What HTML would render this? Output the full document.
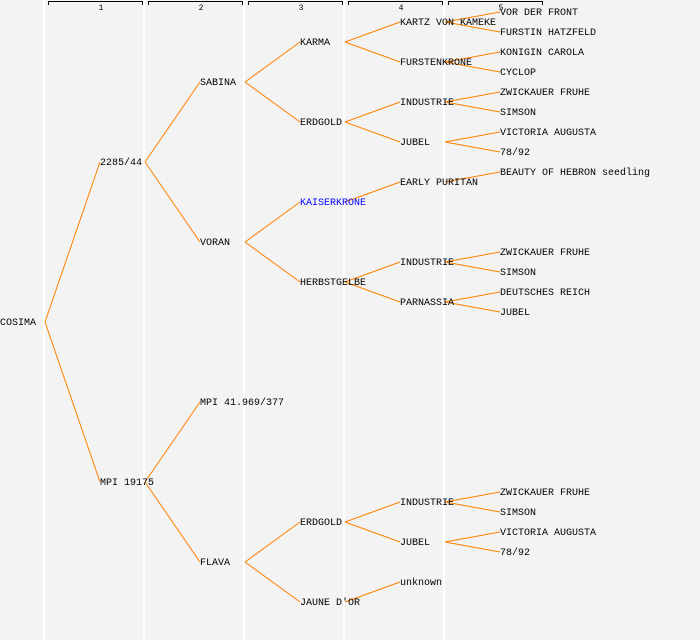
<!DOCTYPE html>
<html><head><meta charset="utf-8"><style>
html,body{margin:0;padding:0;background:#f3f3f3;}
svg{display:block}
text{font-family:"Liberation Mono","DejaVu Sans Mono",monospace;font-size:10px;fill:#000}
.h{font-size:8px}
</style></head><body>
<svg width="700" height="640" viewBox="0 0 700 640">
<rect width="700" height="640" fill="#f3f3f3"/>
<g stroke="#fff" stroke-width="2">
<line x1="44" y1="0" x2="44" y2="640"/><line x1="144" y1="0" x2="144" y2="640"/>
<line x1="244" y1="0" x2="244" y2="640"/><line x1="344" y1="0" x2="344" y2="640"/>
<line x1="444" y1="0" x2="444" y2="640"/>
</g>
<g stroke="#000" stroke-width="1" fill="none">
<path d="M48.5 5V1.5H142.5V5"/><path d="M148.5 5V1.5H242.5V5"/><path d="M248.5 5V1.5H342.5V5"/><path d="M348.5 5V1.5H442.5V5"/><path d="M448.5 5V1.5H542.5V5"/>
</g>
<g class="h" text-anchor="middle">
<text class="h" x="101" y="10">1</text><text class="h" x="201" y="10">2</text><text class="h" x="301" y="10">3</text><text class="h" x="401" y="10">4</text><text class="h" x="501" y="10">5</text>
</g>
<g stroke="#ff8000" stroke-width="1" fill="none">
<path d="M45 322L100 162M45 322L100 482"/>
<path d="M145 162L200 82M145 162L200 242M145 482L200 402M145 482L200 562"/>
<path d="M245 82L300 42M245 82L300 122M245 242L300 202M245 242L300 282M245 562L300 522M245 562L300 602"/>
<path d="M345 42L400 22M345 42L400 62M345 122L400 102M345 122L400 142M345 202L400 182M345 282L400 262M345 282L400 302M345 522L400 502M345 522L400 542M345 602L400 582"/>
<path d="M445 22L500 12M445 22L500 32M445 62L500 52M445 62L500 72M445 102L500 92M445 102L500 112M445 142L500 132M445 142L500 152M445 182L500 172M445 262L500 252M445 262L500 272M445 302L500 292M445 302L500 312M445 502L500 492M445 502L500 512M445 542L500 532M445 542L500 552"/>
</g>
<g transform="translate(0,-1)">
<text x="0" y="326">COSIMA</text>
<text x="100" y="166">2285/44</text><text x="100" y="486">MPI 19175</text>
<text x="200" y="86">SABINA</text><text x="200" y="246">VORAN</text><text x="200" y="406">MPI 41.969/377</text><text x="200" y="566">FLAVA</text>
<text x="300" y="46">KARMA</text><text x="300" y="126">ERDGOLD</text><text x="300" y="206" style="fill:#0000ff">KAISERKRONE</text><text x="300" y="286">HERBSTGELBE</text><text x="300" y="526">ERDGOLD</text><text x="300" y="606">JAUNE D'OR</text>
<text x="400" y="26">KARTZ VON KAMEKE</text><text x="400" y="66">FURSTENKRONE</text><text x="400" y="106">INDUSTRIE</text><text x="400" y="146">JUBEL</text><text x="400" y="186">EARLY PURITAN</text><text x="400" y="266">INDUSTRIE</text><text x="400" y="306">PARNASSIA</text><text x="400" y="506">INDUSTRIE</text><text x="400" y="546">JUBEL</text><text x="400" y="586">unknown</text>
<text x="500" y="16">VOR DER FRONT</text><text x="500" y="36">FURSTIN HATZFELD</text><text x="500" y="56">KONIGIN CAROLA</text><text x="500" y="76">CYCLOP</text><text x="500" y="96">ZWICKAUER FRUHE</text><text x="500" y="116">SIMSON</text><text x="500" y="136">VICTORIA AUGUSTA</text><text x="500" y="156">78/92</text><text x="500" y="176">BEAUTY OF HEBRON seedling</text><text x="500" y="256">ZWICKAUER FRUHE</text><text x="500" y="276">SIMSON</text><text x="500" y="296">DEUTSCHES REICH</text><text x="500" y="316">JUBEL</text><text x="500" y="496">ZWICKAUER FRUHE</text><text x="500" y="516">SIMSON</text><text x="500" y="536">VICTORIA AUGUSTA</text><text x="500" y="556">78/92</text>
</g>
</svg>
</body></html>
